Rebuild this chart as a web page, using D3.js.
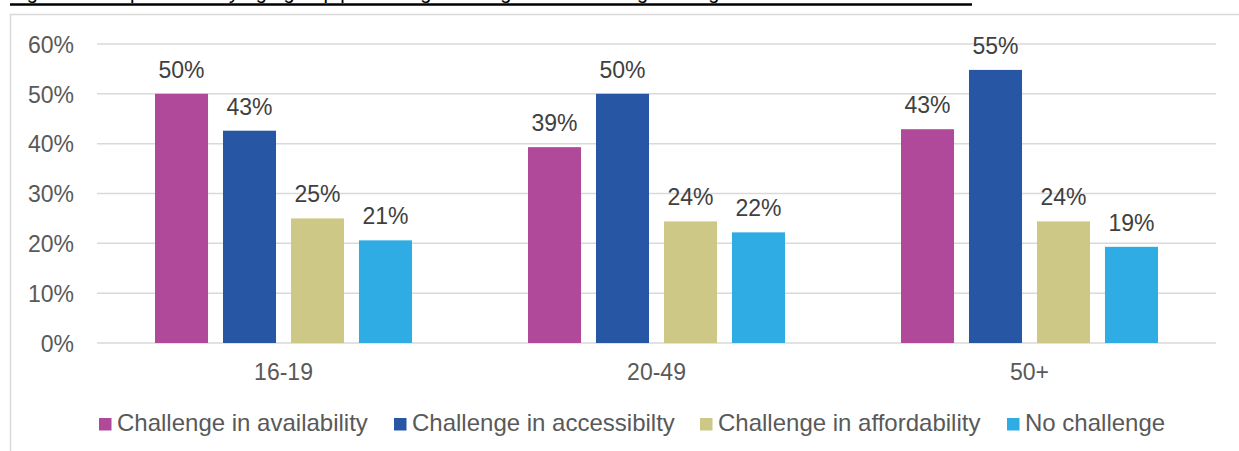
<!DOCTYPE html>
<html>
<head>
<meta charset="utf-8">
<script src="https://cdn.jsdelivr.net/npm/d3@7"></script>
<style>
    body { margin: 0; background: #fff; }
    svg { display: block; font-family: "Liberation Sans", Arial, sans-serif; }
</style>
</head>
<body>
<div id="chart"></div>
<script>
// data
const groups = ["16-19", "20-49", "50+"];
const series = ["Challenge in availability", "Challenge in accessibilty", "Challenge in affordability", "No challenge"];
const availability = [50.0, 39.3, 42.9];
const accessibility = [42.6, 50.0, 54.8];
const affordability = [25.0, 24.4, 24.4];
const noChallenge = [20.6, 22.2, 19.3];
const labels = [["50%", "43%", "25%", "21%"], ["39%", "50%", "24%", "22%"], ["43%", "55%", "24%", "19%"]];
const yTicks = [0, 10, 20, 30, 40, 50, 60];
const colors = ["#B1499A", "#2756A5", "#CDC886", "#2FACE3"];

const values = [availability, accessibility, affordability, noChallenge];

const width = 1239, height = 451;
const svg = d3.select("#chart").append("svg")
    .attr("width", width)
    .attr("height", height);

// caption above the chart, cut off by the top edge like in the source
svg.append("text")
    .attr("x", 10)
    .attr("y", -1)
    .attr("font-size", 20)
    .attr("fill", "#000")
    .text("Figure 4: Respondents by age group perceiving challenges in accessing training");
svg.append("line")
    .attr("x1", 10).attr("x2", 972)
    .attr("y1", 4.5).attr("y2", 4.5)
    .attr("stroke", "#000")
    .attr("stroke-width", 2.5);

// chart frame
svg.append("rect")
    .attr("x", 10.5).attr("y", 14.5)
    .attr("width", 1240).attr("height", 460)
    .attr("fill", "none")
    .attr("stroke", "#D9D9D9")
    .attr("stroke-width", 1.5);

// scales
const plotLeft = 97, plotRight = 1216, plotTop = 44, plotBottom = 343;
const y = d3.scaleLinear().domain([0, 60]).range([plotBottom, plotTop]);
const x0 = d3.scaleBand().domain(groups).range([plotLeft, plotRight]);
const x1 = d3.scaleBand().domain(d3.range(series.length))
    .range([0, x0.bandwidth()])
    .paddingInner(0.22)
    .paddingOuter(0.853);

// gridlines
svg.append("g")
    .selectAll("line")
    .data(yTicks)
    .join("line")
    .attr("x1", plotLeft).attr("x2", plotRight)
    .attr("y1", d => y(d)).attr("y2", d => y(d))
    .attr("stroke", "#D9D9D9")
    .attr("stroke-width", 1.5);

// y axis labels
svg.append("g")
    .call(d3.axisLeft(y).tickValues(yTicks).tickFormat(d => d + "%").tickSize(0).tickPadding(0))
    .attr("transform", "translate(74,0)")
    .call(g => g.select(".domain").remove())
    .call(g => g.selectAll("text")
        .attr("dy", "0.36em")
        .attr("font-size", 23)
        .attr("font-family", "Liberation Sans, Arial, sans-serif")
        .attr("fill", "#595959"));

// x axis labels
svg.append("g")
    .attr("transform", "translate(0," + plotBottom + ")")
    .call(d3.axisBottom(x0).tickSize(0).tickPadding(0))
    .call(g => g.select(".domain").remove())
    .call(g => g.selectAll("text")
        .attr("dy", 0)
        .attr("y", 37)
        .attr("font-size", 23)
        .attr("font-family", "Liberation Sans, Arial, sans-serif")
        .attr("fill", "#595959"));

// bars
const rows = [];
groups.forEach((g, gi) => {
    series.forEach((s, si) => {
        rows.push({ group: g, si: si, value: values[si][gi], label: labels[gi][si] });
    });
});

svg.append("g")
    .selectAll("rect")
    .data(rows)
    .join("rect")
    .attr("x", d => x0(d.group) + x1(d.si))
    .attr("y", d => y(d.value))
    .attr("width", x1.bandwidth())
    .attr("height", d => y(0) - y(d.value))
    .attr("fill", d => colors[d.si]);

// value labels
svg.append("g")
    .selectAll("text")
    .data(rows)
    .join("text")
    .attr("x", d => x0(d.group) + x1(d.si) + x1.bandwidth() / 2)
    .attr("y", d => y(d.value) - 16)
    .attr("text-anchor", "middle")
    .attr("font-size", 23)
    .attr("fill", "#404040")
    .text(d => d.label);

// legend
const legendX = [99, 394, 700, 1007];
const legend = svg.append("g")
    .selectAll("g")
    .data(series)
    .join("g")
    .attr("transform", (d, i) => "translate(" + legendX[i] + ",418)");
legend.append("rect")
    .attr("width", 12.5).attr("height", 12.5)
    .attr("fill", (d, i) => colors[i]);
legend.append("text")
    .attr("x", 18)
    .attr("y", 13)
    .attr("font-size", 24)
    .attr("fill", "#595959")
    .text(d => d);
</script>
</body>
</html>
